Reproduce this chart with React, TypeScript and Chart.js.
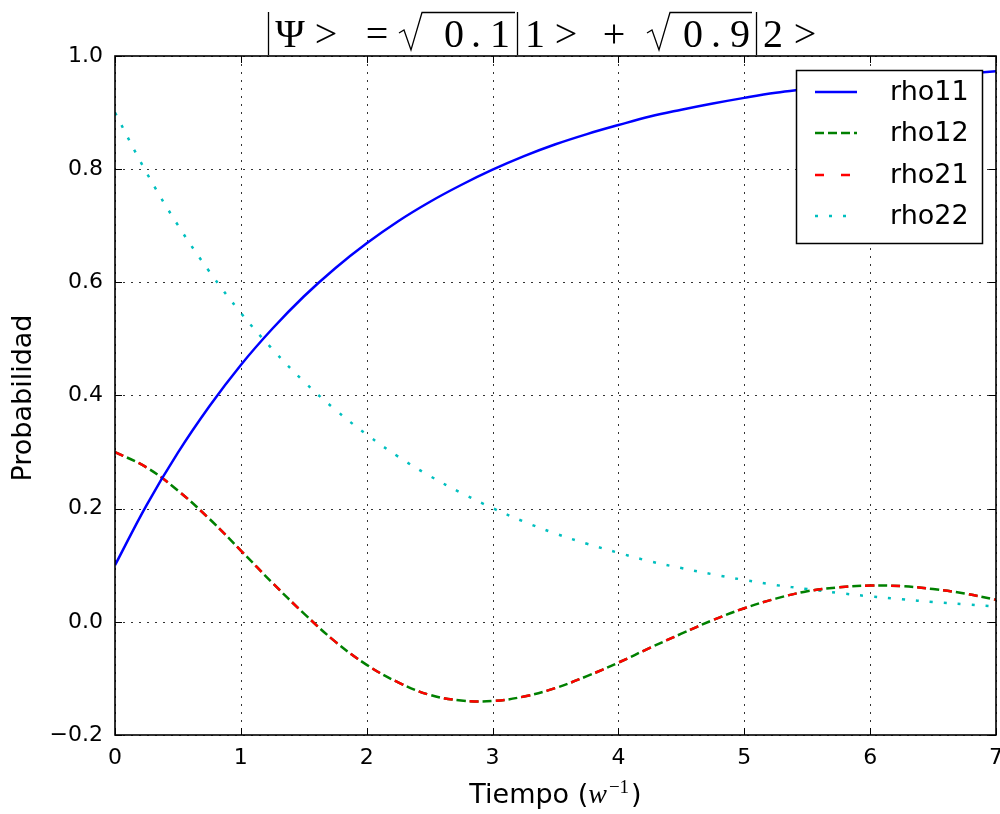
import React, { useEffect, useRef } from "react";
import { Chart, registerables } from "chart.js";

Chart.register(...registerables);

// ---- data ----
const TIME = [0, 0.25, 0.5, 0.75, 1, 1.25, 1.5, 1.75, 2, 2.25, 2.5, 2.75, 3, 3.25, 3.5, 3.75, 4, 4.25, 4.5, 4.75, 5, 5.25, 5.5, 5.75, 6, 6.25, 6.5, 6.75, 7];
const RHO11 = [0.1, 0.206, 0.299, 0.381, 0.454, 0.518, 0.575, 0.625, 0.669, 0.708, 0.742, 0.772, 0.799, 0.823, 0.844, 0.862, 0.878, 0.893, 0.905, 0.916, 0.926, 0.935, 0.942, 0.949, 0.955, 0.96, 0.965, 0.969, 0.973];
const RHO12 = [0.3, 0.273, 0.232, 0.182, 0.126, 0.069, 0.015, -0.035, -0.076, -0.107, -0.129, -0.139, -0.14, -0.132, -0.117, -0.096, -0.072, -0.046, -0.021, 0.003, 0.024, 0.041, 0.054, 0.061, 0.064, 0.063, 0.058, 0.05, 0.039];
const RHO21 = [0.3, 0.273, 0.232, 0.182, 0.126, 0.069, 0.015, -0.035, -0.076, -0.107, -0.129, -0.139, -0.14, -0.132, -0.117, -0.096, -0.072, -0.046, -0.021, 0.003, 0.024, 0.041, 0.054, 0.061, 0.064, 0.063, 0.058, 0.05, 0.039];
const RHO22 = [0.9, 0.794, 0.701, 0.619, 0.546, 0.482, 0.425, 0.375, 0.331, 0.292, 0.258, 0.228, 0.201, 0.177, 0.156, 0.138, 0.122, 0.107, 0.095, 0.084, 0.074, 0.065, 0.058, 0.051, 0.045, 0.04, 0.035, 0.031, 0.027];
const SERIES_NAMES = ["rho11", "rho12", "rho21", "rho22"];
const X_TICKS = [0, 1, 2, 3, 4, 5, 6, 7];
const Y_TICKS = [-0.2, 0, 0.2, 0.4, 0.6, 0.8, 1.0];
const X_LABEL = "Tiempo (";
const Y_LABEL = "Probabilidad";

const COLORS = ["#0000ff", "#008000", "#ff0000", "#00bfbf"];
const DASHES: number[][] = [[], [9, 4], [9, 17], [3, 11]];
const SANS = '"DejaVu Sans", sans-serif';
const SERIF = '"Liberation Serif", "DejaVu Serif", serif';

function fmt(v: number) {
  return (Math.round(v * 10) / 10).toFixed(1).replace("-", "\u2212");
}

const decorPlugin = {
  id: "decor",
  beforeDatasetsDraw(chart: any) {
    const { ctx, chartArea: a, scales } = chart;
    ctx.save();
    ctx.strokeStyle = "rgba(0,0,0,0.8)";
    ctx.lineWidth = 1;
    ctx.setLineDash([2, 6]);
    X_TICKS.forEach((t) => {
      const x = Math.round(scales.x.getPixelForValue(t)) + 0.5;
      ctx.beginPath();
      ctx.moveTo(x, a.top);
      ctx.lineTo(x, a.bottom);
      ctx.stroke();
    });
    Y_TICKS.forEach((t) => {
      const y = Math.round(scales.y.getPixelForValue(t)) + 0.5;
      ctx.beginPath();
      ctx.moveTo(a.left, y);
      ctx.lineTo(a.right, y);
      ctx.stroke();
    });
    ctx.restore();
  },
  afterDatasetsDraw(chart: any) {
    const { ctx, chartArea: a, scales } = chart;
    ctx.save();
    // inner ticks
    ctx.strokeStyle = "#000";
    ctx.lineWidth = 1;
    ctx.setLineDash([]);
    const TL = 7;
    X_TICKS.forEach((t) => {
      const x = Math.round(scales.x.getPixelForValue(t)) + 0.5;
      ctx.beginPath();
      ctx.moveTo(x, a.bottom);
      ctx.lineTo(x, a.bottom - TL);
      ctx.moveTo(x, a.top);
      ctx.lineTo(x, a.top + TL);
      ctx.stroke();
    });
    Y_TICKS.forEach((t) => {
      const y = Math.round(scales.y.getPixelForValue(t)) + 0.5;
      ctx.beginPath();
      ctx.moveTo(a.left, y);
      ctx.lineTo(a.left + TL, y);
      ctx.moveTo(a.right, y);
      ctx.lineTo(a.right - TL, y);
      ctx.stroke();
    });
    // frame
    ctx.lineWidth = 1.6;
    ctx.strokeRect(a.left, a.top, a.right - a.left, a.bottom - a.top);

    // legend
    const lx = 796.5, ly = 70.5, lw = 186, lh = 173;
    ctx.fillStyle = "#fff";
    ctx.fillRect(lx, ly, lw, lh);
    ctx.lineWidth = 1.5;
    ctx.strokeStyle = "#000";
    ctx.strokeRect(lx, ly, lw, lh);
    const rows = [92, 133, 175, 216];
    ctx.font = `27px ${SANS}`;
    ctx.textAlign = "left";
    ctx.textBaseline = "middle";
    SERIES_NAMES.forEach((name, i) => {
      ctx.strokeStyle = COLORS[i];
      ctx.lineWidth = 2.5;
      ctx.setLineDash(DASHES[i]);
      ctx.beginPath();
      ctx.moveTo(815, rows[i]);
      ctx.lineTo(857, rows[i]);
      ctx.stroke();
      ctx.setLineDash([]);
      ctx.fillStyle = "#000";
      ctx.fillText(name, 890, rows[i] + 1);
    });

    // title (math)
    ctx.fillStyle = "#000";
    ctx.strokeStyle = "#000";
    ctx.font = `40px ${SERIF}`;
    ctx.textAlign = "center";
    ctx.textBaseline = "alphabetic";
    const base = 47;
    const glyphs: [string, number][] = [
      ["\u03A8", 290], [">", 326], ["=", 377], ["0", 454], [".", 476], ["1", 500],
      ["1", 535], [">", 566], ["+", 614], ["0", 693], [".", 716], ["9", 740],
      ["2", 773], [">", 805],
    ];
    glyphs.forEach(([g, x]) => ctx.fillText(g, x, base));
    ctx.lineWidth = 1.3;
    [268.5, 517.5, 756.5].forEach((x) => {
      ctx.beginPath();
      ctx.moveTo(x, 12);
      ctx.lineTo(x, 55);
      ctx.stroke();
    });
    const rad = (x0: number, x1: number) => {
      ctx.beginPath();
      ctx.moveTo(x0, 33);
      ctx.lineTo(x0 + 5, 30);
      ctx.lineTo(x0 + 12, 50);
      ctx.lineTo(x0 + 23, 12.5);
      ctx.lineTo(x1, 12.5);
      ctx.stroke();
    };
    rad(399, 515);
    rad(647, 752);

    // x label
    ctx.textAlign = "left";
    ctx.font = `27px ${SANS}`;
    const p1 = X_LABEL;
    const w1 = ctx.measureText(p1).width;
    ctx.font = `italic 28px ${SERIF}`;
    const w2 = ctx.measureText("w").width;
    ctx.font = `19px ${SERIF}`;
    const w3 = ctx.measureText("\u22121").width;
    ctx.font = `27px ${SANS}`;
    const w4 = ctx.measureText(")").width;
    const total = w1 + w2 + 2 + w3 + 2 + w4;
    let cx = (a.left + a.right) / 2 - total / 2;
    const xb = 803;
    ctx.fillText(p1, cx, xb);
    cx += w1;
    ctx.font = `italic 28px ${SERIF}`;
    ctx.fillText("w", cx, xb);
    cx += w2 + 2;
    ctx.font = `19px ${SERIF}`;
    ctx.fillText("\u22121", cx, xb - 10);
    cx += w3 + 2;
    ctx.font = `27px ${SANS}`;
    ctx.fillText(")", cx, xb);

    // y label
    ctx.save();
    ctx.translate(24, 398);
    ctx.rotate(-Math.PI / 2);
    ctx.textAlign = "center";
    ctx.textBaseline = "middle";
    ctx.font = `27px ${SANS}`;
    ctx.fillText(Y_LABEL, 0, 0);
    ctx.restore();

    ctx.restore();
  },
};

export default function App() {
  const ref = useRef<HTMLCanvasElement | null>(null);
  useEffect(() => {
    document.body.style.margin = "0";
    const canvas = ref.current!;
    const series = [RHO11, RHO12, RHO21, RHO22];
    const order = [0, 2, 1, 3];
    const chart = new Chart(canvas, {
      type: "line",
      data: {
        datasets: series.map((vals, i) => ({
          label: SERIES_NAMES[i],
          data: TIME.map((t, k) => ({ x: t, y: vals[k] })),
          borderColor: COLORS[i],
          backgroundColor: COLORS[i],
          borderWidth: 2.5,
          borderDash: DASHES[i],
          borderCapStyle: "butt",
          pointRadius: 0,
          tension: 0.4,
          fill: false,
          order: order[i],
        })),
      },
      options: {
        responsive: false,
        animation: false,
        devicePixelRatio: 1,
        layout: { padding: { top: 56, right: 4, left: 0, bottom: 0 } },
        plugins: { legend: { display: false }, tooltip: { enabled: false }, title: { display: false } },
        scales: {
          x: {
            type: "linear",
            min: 0,
            max: 7,
            grid: { display: false, drawTicks: false },
            border: { display: false },
            ticks: {
              stepSize: 1,
              autoSkip: false,
              maxRotation: 0,
              padding: 10,
              color: "#000",
              font: { family: SANS, size: 22 },
              callback: (v: any) => String(v),
            },
            afterFit: (s: any) => {
              s.height = 79;
              s.paddingLeft = 0;
              s.paddingRight = 0;
            },
          },
          y: {
            type: "linear",
            min: -0.2,
            max: 1.0,
            grid: { display: false, drawTicks: false },
            border: { display: false },
            ticks: {
              stepSize: 0.2,
              padding: 12,
              color: "#000",
              font: { family: SANS, size: 22 },
              callback: (v: any) => fmt(Number(v)),
            },
            afterFit: (s: any) => {
              s.width = 115;
              s.paddingTop = 0;
              s.paddingBottom = 0;
            },
          },
        },
      },
      plugins: [decorPlugin],
    } as any);
    return () => chart.destroy();
  }, []);
  return (
    <div style={{ position: "fixed", left: 0, top: 0, width: 1000, height: 814, background: "#fff" }}>
      <canvas ref={ref} width={1000} height={814} style={{ width: 1000, height: 814 }} />
    </div>
  );
}
